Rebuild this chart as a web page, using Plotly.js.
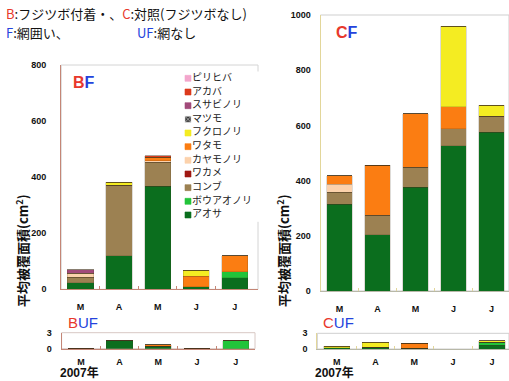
<!DOCTYPE html>
<html><head><meta charset="utf-8">
<script src="https://cdn.plot.ly/plotly-3.0.1.min.js"></script>
<style>body{margin:0;padding:0;background:#fff}#chart{width:509px;height:381px}</style>
</head><body><div id="chart"></div>
<script>
// ---- data ----
const months = ['M','A','M','J','J'];
const species = ['アオサ','ボウアオノリ','コンブ','ワカメ','カヤモノリ','ワタモ','フクロノリ','マツモ','スサビノリ','アカバ','ピリヒバ'];
const speciesColors = ['#0b6e1e','#22c43a','#9c8152','#a01812','#fcd2ac','#fb7d12','#f4ec22','#3a3a3a','#a24a7a','#dc3a1c','#f3a6cc'];

// BF (0-800)
const bf_aosa   = [24, 119, 368, 10, 42];
const bf_bou    = [0, 0, 0, 0, 20];
const bf_konbu  = [19, 253, 85, 0, 0];
const bf_wakame = [0, 0, 0, 0, 0];
const bf_kaya   = [14, 0, 5, 0, 0];
const bf_watamo = [0, 0, 13, 37, 58];
const bf_fukuro = [0, 10, 0, 21, 0];
const bf_matsumo= [0, 0, 0, 0, 0];
const bf_susabi = [12, 0, 0, 0, 0];
const bf_akaba  = [0, 0, 5, 0, 0];
const bf_pirihiba=[0, 0, 0, 0, 0];

// CF (0-1000)
const cf_aosa   = [315, 203, 376, 527, 576];
const cf_bou    = [0, 0, 0, 0, 0];
const cf_konbu  = [42, 71, 72, 61, 58];
const cf_wakame = [0, 0, 0, 0, 0];
const cf_kaya   = [29, 0, 0, 0, 0];
const cf_watamo = [32, 181, 194, 80, 0];
const cf_fukuro = [0, 0, 0, 292, 39];
const cf_matsumo= [0, 0, 0, 0, 0];
const cf_susabi = [0, 0, 0, 0, 0];
const cf_akaba  = [0, 0, 0, 0, 0];
const cf_pirihiba=[0, 0, 0, 0, 0];

// BUF (0-3)
const buf_aosa  = [0, 1.5, 0.5, 0, 0];
const buf_bou   = [0, 0, 0, 0, 1.5];
const buf_watamo= [0, 0, 0.2, 0, 0];

// CUF (0-3)
const cuf_aosa  = [0.2, 0.38, 0.15, 0, 0.75];
const cuf_bou   = [0, 0, 0, 0, 0.5];
const cuf_watamo= [0, 0, 0.95, 0, 0];
const cuf_fukuro= [0.35, 0.9, 0, 0, 0.3];

const zeros = [0,0,0,0,0];
const BF  = [bf_aosa,bf_bou,bf_konbu,bf_wakame,bf_kaya,bf_watamo,bf_fukuro,bf_matsumo,bf_susabi,bf_akaba,bf_pirihiba];
const CF  = [cf_aosa,cf_bou,cf_konbu,cf_wakame,cf_kaya,cf_watamo,cf_fukuro,cf_matsumo,cf_susabi,cf_akaba,cf_pirihiba];
const BUF = [buf_aosa,buf_bou,zeros,zeros,zeros,buf_watamo,zeros,zeros,zeros,zeros,zeros];
const CUF = [cuf_aosa,cuf_bou,zeros,zeros,zeros,cuf_watamo,cuf_fukuro,zeros,zeros,zeros,zeros];

const xs = months.map((_, i) => i);
const traces = [];
function addSet(set, xa, ya){
  set.forEach((vals, k) => {
    const m = {color: speciesColors[k], line:{color:'rgba(70,50,30,0.35)', width:0.5}};
    if (species[k] === 'マツモ') m.pattern = {shape:'x', fgcolor:'#cccccc', size:4};
    traces.push({type:'bar', x: xs, y: vals, name: species[k], xaxis: xa, yaxis: ya,
      marker: m, showlegend:false, hoverinfo:'skip'});
  });
}
addSet(BF,'x','y');
addSet(CF,'x2','y2');
addSet(BUF,'x3','y3');
addSet(CUF,'x4','y4');

// manual legend on a hidden axis (item spacing like original)
const legIdx = species.map((_, i) => i);
traces.push({type:'scatter', mode:'markers', x: legIdx.map(()=>8), y: legIdx, xaxis:'x5', yaxis:'y5',
  marker:{symbol: species.map(s => s==='マツモ' ? 'square-x' : 'square'), size:6,
    color: speciesColors, line:{color: species.map((s,i)=> s==='マツモ' ? '#dddddd' : speciesColors[i]), width:0.6}},
  showlegend:false, hoverinfo:'skip'});
traces.push({type:'scatter', mode:'text', x: legIdx.map(()=>12), y: legIdx, xaxis:'x5', yaxis:'y5',
  text: species, textposition:'middle right',
  textfont:{family:'Noto Sans CJK JP, sans-serif', size:10, color:'#222'},
  showlegend:false, hoverinfo:'skip'});

const W = 509, H = 381;
const px = v => v / W;
const py = v => 1 - v / H;
const tickFont = {family:'Liberation Sans, Arial, sans-serif', size:9, color:'#111', weight:'bold'};
const redAx = '#c48676';
const yelAx = '#e2d69a';

function xAxis(d0, d1, r1, col, tickcol, standoff){
  return {domain:[px(d0), px(d1)], range:[-0.5, r1], tickvals: xs, ticktext: months,
    tickfont: tickFont, showline:true, linecolor: col, linewidth:1, ticks:'', showgrid:false, zeroline:false,
    ticklabelstandoff: standoff, fixedrange:true,
    minor:{tickvals:[0.5,1.5,2.5,3.5], ticks:'inside', ticklen:3, tickcolor: tickcol, tickwidth:1, showgrid:false}};
}
function yAxis(d0, d1, r1, dt, col, anchor, standoff){
  return {domain:[py(d1), py(d0)], range:[0, r1], dtick: dt, tick0:0, tickfont: tickFont, showline:true,
    linecolor: col, linewidth:1, ticks:'', showgrid:false, zeroline:false, anchor: anchor,
    ticklabelstandoff: standoff, fixedrange:true};
}

const layout = {
  width: W, height: H, margin:{l:0,r:0,t:0,b:0}, paper_bgcolor:'#fff', plot_bgcolor:'#fff',
  barmode:'stack', bargap:0.32, showlegend:false,
  font:{family:'Noto Sans CJK JP, sans-serif'},
  xaxis:  xAxis(61.2, 258, 4.6, redAx, redAx, 9),
  yaxis:  yAxis(65, 289.3, 800, 200, redAx, 'x', 12),
  xaxis2: Object.assign(xAxis(320.5, 509, 4.46, '#b8b8a8', yelAx, 9), {anchor:'y2'}),
  yaxis2: yAxis(15, 291, 1000, 200, yelAx, 'x2', 7),
  xaxis3: Object.assign(xAxis(61.6, 255, 4.5, redAx, redAx, 4), {anchor:'y3'}),
  yaxis3: Object.assign(yAxis(332.7, 348.7, 3, 3, redAx, 'x3', 7), {tickvals:[0,3]}),
  xaxis4: Object.assign(xAxis(317.3, 509, 4.44, '#b8b8a8', yelAx, 4), {anchor:'y4'}),
  yaxis4: Object.assign(yAxis(333.3, 349, 3, 3, yelAx, 'x4', 7), {tickvals:[0,3]}),
  xaxis5: {domain:[px(180), px(260)], range:[0,80], visible:false, fixedrange:true, anchor:'y5'},
  yaxis5: {domain:[py(221.8), py(71.5)], range:[-0.5,10.5], visible:false, fixedrange:true, anchor:'x5'},
  shapes: [
    {type:'rect', xref:'x domain', yref:'y domain', x0:0, x1:1, y0:0, y1:1, line:{color:'#d4d4d4', width:1}, layer:'below'},
    {type:'rect', xref:'x2 domain', yref:'y2 domain', x0:0, x1:1, y0:0, y1:1, line:{color:'#cfcfcf', width:1}, layer:'below'},
    {type:'rect', xref:'x3 domain', yref:'y3 domain', x0:0, x1:1, y0:0, y1:1, line:{color:'#d8c8c4', width:1}, layer:'below'},
    {type:'rect', xref:'x4 domain', yref:'y4 domain', x0:0, x1:1, y0:0, y1:1, line:{color:'#cfcfcf', width:1}, layer:'below'}
  ],
  annotations: []
};

const RED = '#e8382c', BLUE = '#2443dc';
const A = layout.annotations;
function ann(x, y, text, font, extra){
  A.push(Object.assign({xref:'paper', yref:'paper', x: px(x), y: py(y), xanchor:'left', yanchor:'middle',
    text: text, showarrow:false, font: font, borderpad:0}, extra || {}));
}
const hdrFont = {family:'Noto Sans CJK JP, sans-serif', size:13, color:'#111'};
ann(5, 14, `<span style="color:${RED}">B</span>:フジツボ付着・、<span style="color:${RED}">C</span>:対照(フジツボなし)`, hdrFont);
ann(5, 33, `<span style="color:${BLUE}">F</span>:網囲い、`, hdrFont);
ann(136, 33, `<span style="color:${BLUE}">UF</span>:網なし`, hdrFont);
const lblFont = {family:'Liberation Sans, Arial, sans-serif', size:16, weight:'bold'};
ann(72, 82, `<span style="color:${RED}">B</span><span style="color:${BLUE}">F</span>`, lblFont);
ann(335, 33, `<span style="color:${RED}">C</span><span style="color:${BLUE}">F</span>`, lblFont);
const lblFont2 = {family:'Liberation Sans, Arial, sans-serif', size:15};
ann(67, 322, `<span style="color:${RED}">B</span><span style="color:${BLUE}">UF</span>`, lblFont2);
ann(322, 322, `<span style="color:${RED}">C</span><span style="color:${BLUE}">UF</span>`, lblFont2);
const yrFont = {family:'Liberation Sans, Noto Sans CJK JP, sans-serif', size:12, color:'#111', weight:'bold'};
ann(59, 381, '2007年', yrFont, {yanchor:'bottom'});
ann(314, 381, '2007年', yrFont, {yanchor:'bottom'});
const ytFont = {family:'Noto Sans CJK JP, sans-serif', size:13, color:'#111', weight:'bold'};
ann(22, 251, '平均被覆面積(cm<sup>2</sup>)', ytFont, {textangle:-90, xanchor:'center', yanchor:'middle'});
ann(283, 251, '平均被覆面積(cm<sup>2</sup>)', ytFont, {textangle:-90, xanchor:'center', yanchor:'middle'});

Plotly.newPlot('chart', traces, layout, {staticPlot:true, displayModeBar:false});
</script>
</body></html>
